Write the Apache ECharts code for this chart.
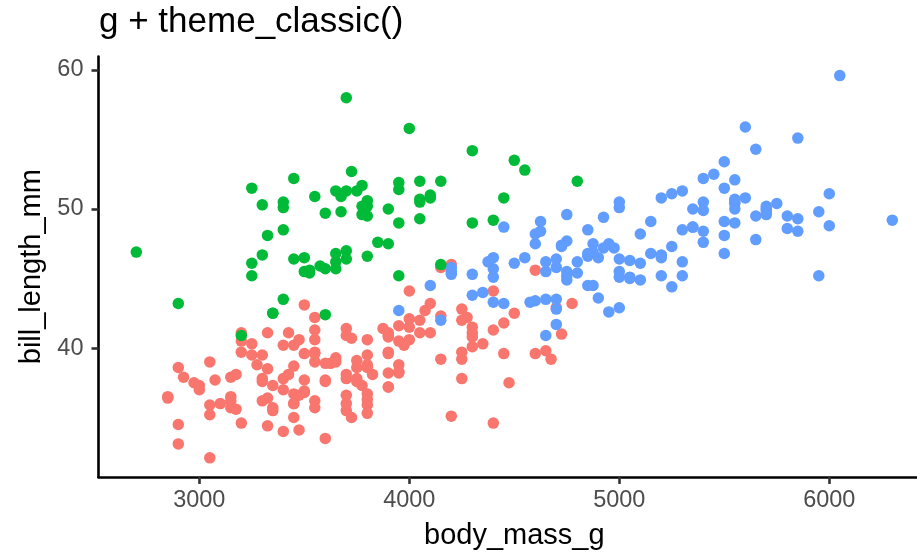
<!DOCTYPE html>
<html>
<head>
<meta charset="utf-8">
<script src="https://cdn.jsdelivr.net/npm/echarts@6/dist/echarts.min.js"></script>
<style>
html,body{margin:0;padding:0;background:#fff;}
#chart{width:917px;height:554px;}
</style>
</head>
<body>
<div id="chart"></div>
<script>
// Palmer penguins: body_mass_g vs bill_length_mm, by species
const adelieMass = [3750,3800,3250,3450,3650,3625,4675,3475,4250,3300,3700,3200,3800,4400,3700,3450,4500,3325,4200,
3400,3600,3800,3950,3800,3800,3550,3200,3150,3950,
3250,3900,3300,3900,3325,4150,3950,3550,3300,4650,3150,3900,3100,4400,3000,4600,3425,2975,3450,4150,
3500,4300,3450,4050,2900,3700,3550,3800,2850,3750,3150,4400,3600,4050,2850,3950,3350,4100,
3050,4450,3600,3900,3550,4150,3700,4250,3700,3900,3550,4000,3200,4700,3800,4200,
3350,3550,3800,3500,3950,3600,3550,4300,3400,4450,3300,4300,3700,4350,2900,4100,
3725,4725,3075,4250,2925,3550,3750,3900,3175,4775,3825,4600,3200,4275,3900,4075,
2900,3775,3350,3325,3150,3500,3450,3875,3050,4000,3275,4300,3050,4000,3325,3500,
3500,4475,3425,3900,3175,3975,3400,4250,3400,3475,3050,3725,3000,3650,4250,3475,3450,3750,3700,4000];
const adelieBill = [39.1,39.5,40.3,36.7,39.3,38.9,39.2,34.1,42.0,37.8,37.8,41.1,38.6,34.6,36.6,38.7,42.5,34.4,46.0,
37.8,37.7,35.9,38.2,38.8,35.3,40.6,40.5,37.9,40.5,
39.5,37.2,39.5,40.9,36.4,39.2,38.8,42.2,37.6,39.8,36.5,40.8,36.0,44.1,37.0,39.6,41.1,37.5,36.0,42.3,
39.6,40.1,35.0,42.0,34.5,41.4,39.0,40.6,36.5,37.6,35.7,41.3,37.6,41.1,36.4,41.6,35.5,41.1,
35.9,41.8,33.5,39.7,39.6,45.8,35.5,42.8,40.9,37.2,36.2,42.1,34.6,42.9,36.7,35.1,
37.3,41.3,36.3,36.9,38.3,38.9,35.7,41.1,34.0,39.6,36.2,40.8,38.1,40.3,33.1,43.2,
35.0,41.0,37.7,37.8,37.9,39.7,38.6,38.2,38.1,43.2,38.1,45.6,39.7,42.2,39.6,42.7,
38.6,37.3,35.7,41.1,36.2,37.7,40.2,41.4,35.2,40.6,38.8,41.5,39.0,44.1,38.5,43.1,
36.8,37.5,38.1,41.1,35.6,40.2,37.0,39.7,40.2,40.6,32.1,40.7,37.3,39.0,39.2,36.6,36.0,37.8,36.0,41.5];

const gentooMass = [4500,5700,4450,5700,5400,4550,4800,5200,4400,5150,4650,5550,4650,5850,4200,5850,4150,6300,4800,5350,
5700,5000,4400,5050,5000,5100,4100,5650,4600,5550,5250,4700,5050,6050,
5150,5400,4950,5250,4350,5350,3950,5700,4300,4750,5550,4900,4200,5400,5100,5300,4850,5300,4400,5000,
4900,5050,4300,5000,4450,5550,4200,5300,4400,5650,4700,5700,4650,5800,4700,5550,4750,5000,5100,5200,
4700,5800,4600,6000,4750,5950,
4625,5450,4725,5350,4750,5600,4600,5300,4875,5550,4950,5400,4750,5650,4850,5200,4925,4875,4625,5250,
4850,5600,4975,5500,4725,5500,4700,5500,4575,5500,5000,5950,4650,5500,4375,5850,4875,6000,4925,4850,
5750,5200,5400];
const gentooBill = [46.1,50.0,48.7,50.0,47.6,46.5,45.4,46.7,43.3,46.8,40.9,49.0,45.5,48.4,45.8,49.3,42.0,49.2,46.2,48.7,
50.2,45.1,46.5,46.3,42.9,46.1,44.5,47.8,48.2,50.0,47.3,42.8,45.1,59.6,
49.1,48.4,42.6,44.4,44.0,48.7,42.7,49.6,45.3,49.6,50.5,43.6,45.5,50.5,44.9,45.2,46.6,48.5,45.1,50.1,
46.5,45.0,43.8,45.5,43.2,50.4,45.3,46.2,45.7,54.3,45.8,49.8,46.2,49.5,43.5,50.7,47.7,46.4,48.2,46.5,
46.4,48.6,47.5,51.1,45.2,45.2,
49.1,52.5,47.4,50.0,44.9,50.8,43.4,51.3,47.5,52.1,47.5,52.2,45.5,49.5,44.5,50.8,49.4,46.9,48.4,51.1,
48.5,55.9,47.2,49.1,47.3,46.8,41.7,53.4,43.3,48.1,50.5,49.8,43.5,51.5,46.2,55.1,44.5,48.8,47.2,46.8,
50.4,45.2,49.9];

const chinstrapMass = [3500,3900,3650,3525,3725,3950,3250,3750,4150,3700,3800,3775,3700,4050,3575,4050,3300,3700,3450,4400,
3600,3400,2900,3800,3300,4150,
3400,3800,3700,4550,3200,4300,3350,4100,3600,3900,3850,4800,
2700,4500,3950,3650,3550,3500,3675,4450,3400,4300,3250,3675,3325,3950,3600,4050,3350,3450,3250,4050,
3800,3525,3950,3650,3650,4000,3400,3775,4100,3775];
const chinstrapBill = [46.5,50.0,51.3,45.4,52.7,45.2,46.1,51.3,46.0,51.3,46.6,51.7,47.0,52.0,45.9,50.5,50.3,58.0,46.4,49.2,
42.4,48.5,43.2,50.6,46.7,52.0,
50.5,49.5,46.4,52.8,40.9,54.2,42.5,51.0,49.7,47.5,47.6,52.0,
46.9,53.5,49.0,46.2,50.9,45.5,50.9,50.8,50.1,49.0,51.5,49.8,48.1,51.4,45.7,50.7,42.5,52.2,45.2,49.3,
50.2,45.6,51.9,46.8,45.7,55.8,43.5,49.6,50.8,50.2];

const xTicks = [3000, 4000, 5000, 6000];
const yTicks = [40, 50, 60];
const speciesColors = { Adelie: '#F8766D', Gentoo: '#619CFF', Chinstrap: '#00BA38' };

function zip(a, b) { return a.map((v, i) => [v, b[i]]); }

const FONT = '"Liberation Sans", Arial, sans-serif';
const chart = echarts.init(document.getElementById('chart'), null, { renderer: 'canvas' });

function series(name, mass, bill) {
  return {
    name: name,
    type: 'scatter',
    data: zip(mass, bill),
    symbol: 'circle',
    symbolSize: 11.5,
    itemStyle: { color: speciesColors[name], opacity: 1 },
    emphasis: { disabled: true },
    animation: false
  };
}

chart.setOption({
  animation: false,
  backgroundColor: '#ffffff',
  title: {
    text: 'g + theme_classic()',
    left: 99,
    top: 5,
    padding: 0,
    textStyle: { fontFamily: FONT, fontSize: 35, fontWeight: 'normal', color: '#000000' }
  },
  grid: { left: 98.5, top: 56.45, width: 831.6, height: 420.5, containLabel: false, outerBoundsMode: 'none' },
  xAxis: {
    type: 'value',
    min: 2520,
    max: 6480,
    name: 'body_mass_g',
    nameLocation: 'middle',
    nameGap: 45,
    nameTextStyle: { fontFamily: FONT, fontSize: 29, color: '#000000' },
    axisLine: { show: true, onZero: false, lineStyle: { color: '#000000', width: 2.6 } },
    axisTick: { show: true, length: 7, customValues: xTicks, lineStyle: { color: '#333333', width: 2.6 } },
    axisLabel: { customValues: xTicks, margin: 12, fontFamily: FONT, fontSize: 23.5, color: '#4D4D4D',
      formatter: function (v) { return String(v); } },
    splitLine: { show: false }
  },
  yAxis: {
    type: 'value',
    min: 30.725,
    max: 60.975,
    name: 'bill_length_mm',
    nameLocation: 'middle',
    nameGap: 52,
    nameRotate: 90,
    nameTextStyle: { fontFamily: FONT, fontSize: 29, color: '#000000' },
    axisLine: { show: true, onZero: false, lineStyle: { color: '#000000', width: 2.6 } },
    axisTick: { show: true, length: 7, customValues: yTicks, lineStyle: { color: '#333333', width: 2.6 } },
    axisLabel: { customValues: yTicks, margin: 15, fontFamily: FONT, fontSize: 23.5, color: '#4D4D4D',
      formatter: function (v) { return String(v); } },
    splitLine: { show: false }
  },
  series: [
    series('Adelie', adelieMass, adelieBill),
    series('Gentoo', gentooMass, gentooBill),
    series('Chinstrap', chinstrapMass, chinstrapBill)
  ]
});
</script>
</body>
</html>
